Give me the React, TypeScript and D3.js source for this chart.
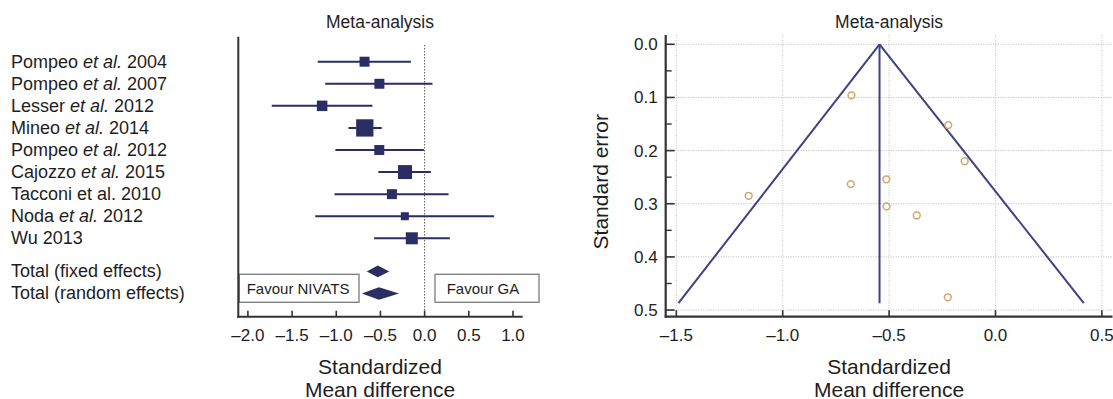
import React from 'react';
import * as d3 from 'd3';

// study rows (forest plot, top to bottom)
const studyAuthors = ['Pompeo', 'Pompeo', 'Lesser', 'Mineo', 'Pompeo', 'Cajozzo', 'Tacconi', 'Noda', 'Wu'];
const studyEtAl = ['italic', 'italic', 'italic', 'italic', 'italic', 'italic', 'plain', 'italic', 'none'];
const studyYears = ['2004', '2007', '2012', '2014', '2012', '2015', '2010', '2012', '2013'];

// standardized mean difference with 95% CI, and relative weight (%)
const smd = [-0.68, -0.512, -1.16, -0.677, -0.513, -0.222, -0.37, -0.224, -0.145];
const ciLower = [-1.21, -1.125, -1.73, -0.862, -1.01, -0.524, -1.02, -1.238, -0.572];
const ciUpper = [-0.155, 0.089, -0.591, -0.485, -0.008, 0.071, 0.271, 0.786, 0.286];
const weights = [8.2, 8.2, 9.1, 24.7, 8.2, 16.1, 8.2, 5.3, 11.9];

// standard errors (funnel plot)
const stdErr = [0.263, 0.305, 0.285, 0.096, 0.254, 0.152, 0.322, 0.476, 0.22];

// pooled estimates
const totalLabels = ['Total (fixed effects)', 'Total (random effects)'];
const totalEst = [-0.53, -0.516];
const totalLower = [-0.655, -0.711];
const totalUpper = [-0.4, -0.29];

// funnel (pseudo 95% limits)
const funnelCenter = -0.545;
const funnelMaxSE = 0.487;
const funnelLimits = [-1.49, 0.415];

const forestTicks = [-2.0, -1.5, -1.0, -0.5, 0.0, 0.5, 1.0];
const funnelXTicks = [-1.5, -1.0, -0.5, 0.0, 0.5];
const funnelYTicks = [0.0, 0.1, 0.2, 0.3, 0.4, 0.5];
const funnelYMinor = [0.05, 0.15, 0.25, 0.35, 0.45];

const FONT = '"Liberation Sans", Arial, Helvetica, sans-serif';
const NAVY = '#2b2d64';
const FUNNEL = '#3f4182';
const AXIS = '#333';
const TEXT = '#1e1e1e';

const fmt = (d: number) => (d < 0 ? '\u2013' : '') + Math.abs(d).toFixed(1);

export default function App() {
  // ---- forest plot scales
  const fx = d3.scaleLinear().domain([-2.12, 1.11]).range([237.3, 522.7]);
  const fy = d3.scaleLinear().domain([0, 8]).range([61.7, 238.3]);
  const totalRows = [9.5, 10.5];
  const size = d3.scaleSqrt().domain([0, d3.max(weights)!]).range([0, 17.3]);
  const forestBottom = 316.7;
  const forestTop = 36.7;

  // ---- funnel plot scales
  const px = d3.scaleLinear().domain([-1.55, 0.55]).range([665.7, 1112.5]);
  const py = d3.scaleLinear().domain([-0.0175, 0.5125]).range([35, 316.7]);
  const [pxl, pxr] = px.range();
  const [pyt, pyb] = py.range();

  const fCenterX = (fx.range()[0] + fx.range()[1]) / 2;
  const pCenterX = (pxl + pxr) / 2;

  return (
    <svg
      width={1113}
      height={399}
      style={{ position: 'absolute', left: 0, top: 0, background: '#fff' }}
      fontFamily={FONT}
    >
      <rect width={1113} height={399} fill="#fff" />

      {/* ================= forest plot ================= */}
      <text x={fCenterX} y={27.5} textAnchor="middle" fontSize={17.5} fill={TEXT}>Meta-analysis</text>

      {/* study labels */}
      {studyAuthors.map((a, i) => (
        <text key={'lab' + i} x={11} y={fy(i) + 6} fontSize={18} fill={TEXT}>
          {a}
          {studyEtAl[i] === 'italic' && <tspan fontStyle="italic"> et al.</tspan>}
          {studyEtAl[i] === 'plain' && <tspan> et al.</tspan>}
          {' ' + studyYears[i]}
        </text>
      ))}
      {totalLabels.map((t, i) => (
        <text key={'tl' + i} x={11} y={fy(totalRows[i]) + 6} fontSize={18} fill={TEXT}>{t}</text>
      ))}

      {/* zero line */}
      <line x1={fx(0)} x2={fx(0)} y1={45} y2={forestBottom} stroke="#555" strokeWidth={1} strokeDasharray="1.5,1.5" />

      {/* favour boxes */}
      <rect x={239.3} y={274.3} width={119.7} height={28} fill="#fff" stroke="#7a7a7a" strokeWidth={1.3} />
      <text x={246.7} y={293.7} fontSize={15} fill={TEXT}>Favour NIVATS</text>
      <rect x={435} y={274.3} width={104} height={28} fill="#fff" stroke="#7a7a7a" strokeWidth={1.3} />
      <text x={446.7} y={293.7} fontSize={15} fill={TEXT}>Favour GA</text>

      {/* CI lines and squares */}
      {smd.map((m, i) => {
        const s = size(weights[i]);
        return (
          <g key={'st' + i}>
            <line x1={fx(ciLower[i])} x2={fx(ciUpper[i])} y1={fy(i)} y2={fy(i)} stroke={NAVY} strokeWidth={2} />
            <rect x={fx(m) - s / 2} y={fy(i) - s / 2} width={s} height={s} fill={NAVY} />
          </g>
        );
      })}

      {/* pooled diamonds */}
      {totalEst.map((m, i) => {
        const y = fy(totalRows[i]);
        const h = i === 0 ? 5.8 : 6.3;
        const pts = [
          [fx(totalLower[i]), y],
          [fx(m), y - h],
          [fx(totalUpper[i]), y],
          [fx(m), y + h],
        ];
        return <polygon key={'dm' + i} points={pts.map(p => p.join(',')).join(' ')} fill={NAVY} />;
      })}

      {/* axes */}
      <line x1={238.3} x2={238.3} y1={forestTop} y2={forestBottom + 1} stroke={AXIS} strokeWidth={2} />
      <line x1={fx.range()[0]} x2={fx.range()[1]} y1={forestBottom} y2={forestBottom} stroke={AXIS} strokeWidth={2} />
      {forestTicks.map(t => (
        <g key={'ft' + t}>
          <line x1={fx(t)} x2={fx(t)} y1={forestBottom} y2={forestBottom - 6} stroke={AXIS} strokeWidth={1.6} />
          <text x={fx(t)} y={341} textAnchor="middle" fontSize={17} fill={TEXT}>{fmt(t)}</text>
        </g>
      ))}
      <text x={fCenterX} y={374.2} textAnchor="middle" fontSize={21} fill={TEXT}>Standardized</text>
      <text x={fCenterX} y={396.5} textAnchor="middle" fontSize={21} fill={TEXT}>Mean difference</text>

      {/* ================= funnel plot ================= */}
      <text x={pCenterX} y={27.5} textAnchor="middle" fontSize={17.5} fill={TEXT}>Meta-analysis</text>

      {/* grid */}
      {funnelYTicks.map(t => (
        <line key={'gy' + t} x1={pxl} x2={pxr} y1={py(t)} y2={py(t)} stroke="#b8b8b8" strokeWidth={1} strokeDasharray="1,1.5" />
      ))}
      {funnelXTicks.map(t => (
        <line key={'gx' + t} x1={px(t)} x2={px(t)} y1={pyt} y2={pyb} stroke="#c4c4c4" strokeWidth={1} strokeDasharray="1,1.5" />
      ))}

      {/* funnel lines */}
      <line x1={px(funnelCenter)} x2={px(funnelLimits[0])} y1={py(0)} y2={py(funnelMaxSE)} stroke={FUNNEL} strokeWidth={2} />
      <line x1={px(funnelCenter)} x2={px(funnelLimits[1])} y1={py(0)} y2={py(funnelMaxSE)} stroke={FUNNEL} strokeWidth={2} />
      <line x1={px(funnelCenter)} x2={px(funnelCenter)} y1={py(0)} y2={py(funnelMaxSE)} stroke={FUNNEL} strokeWidth={2} />

      {/* studies */}
      {smd.map((m, i) => (
        <circle key={'pt' + i} cx={px(m)} cy={py(stdErr[i])} r={3.4} fill="none" stroke="#d5a56b" strokeWidth={1.5} />
      ))}

      {/* axes */}
      <line x1={pxl} x2={pxl} y1={pyt} y2={pyb + 1} stroke={AXIS} strokeWidth={2.2} />
      <line x1={pxl - 1} x2={pxr} y1={pyb} y2={pyb} stroke={AXIS} strokeWidth={2.2} />
      {funnelYTicks.map(t => (
        <g key={'yt' + t}>
          <line x1={pxl} x2={pxl + 9} y1={py(t)} y2={py(t)} stroke={AXIS} strokeWidth={1.6} />
          <text x={657.7} y={py(t) + 6} textAnchor="end" fontSize={17} fill={TEXT}>{t.toFixed(1)}</text>
        </g>
      ))}
      {funnelYMinor.map(t => (
        <line key={'ym' + t} x1={pxl} x2={pxl + 6} y1={py(t)} y2={py(t)} stroke={AXIS} strokeWidth={1.4} />
      ))}
      {funnelXTicks.map(t => (
        <g key={'xt' + t}>
          <line x1={px(t)} x2={px(t)} y1={pyb} y2={pyb - 6.5} stroke={AXIS} strokeWidth={1.6} />
          <text x={px(t)} y={341} textAnchor="middle" fontSize={17} fill={TEXT}>{fmt(t)}</text>
        </g>
      ))}
      <text
        transform={`translate(607.5,181.7) rotate(-90)`}
        textAnchor="middle"
        fontSize={21}
        fill={TEXT}
      >
        Standard error
      </text>
      <text x={pCenterX} y={374.2} textAnchor="middle" fontSize={21} fill={TEXT}>Standardized</text>
      <text x={pCenterX} y={396.5} textAnchor="middle" fontSize={21} fill={TEXT}>Mean difference</text>
    </svg>
  );
}
